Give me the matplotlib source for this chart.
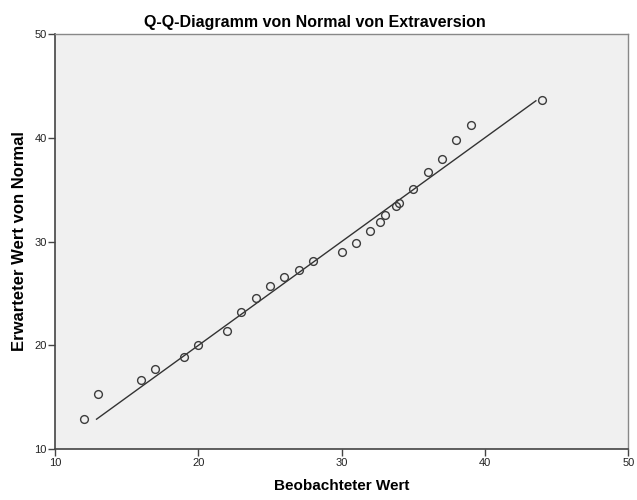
import numpy as np
import matplotlib.pyplot as plt

# beobachtete Werte und erwartete Normalwerte
beobachtet = [12, 13, 16, 17, 19, 20, 22, 23, 24, 25, 26, 27, 28,
              30, 31, 32, 32.7, 33, 33.8, 34, 35, 36, 37, 38, 39, 44]
erwartet = [12.9, 15.3, 16.7, 17.7, 18.85, 20.0, 21.4, 23.2, 24.6, 25.7, 26.55, 27.3, 28.1,
            29.0, 29.9, 31.0, 31.9, 32.6, 33.4, 33.75, 35.05, 36.7, 37.95, 39.75, 41.2, 43.6]
linie = [12.9, 43.55]
ticks = [10, 20, 30, 40, 50]

plt.rcParams['font.family'] = ['Liberation Sans', 'DejaVu Sans']

fig = plt.figure(figsize=(6.37, 5.0), dpi=100)
ax = fig.add_axes([0.0863, 0.1014, 0.9001, 0.831])
ax.set_facecolor("#f0f0f0")

ax.plot(linie, linie, color="#333333", lw=1.0, zorder=2)
ax.plot(beobachtet, erwartet, "o", ms=5.6, mfc="none", mec="#3c3c3c", mew=1.0, zorder=3)

ax.set_xlim(10, 50)
ax.set_ylim(10, 50)
ax.set_xticks(ticks)
ax.set_yticks(ticks)
ax.tick_params(direction="out", length=5, width=1, color="#444444",
               labelsize=8, labelcolor="#222222", pad=1)
for s in ["left", "bottom"]:
    ax.spines[s].set_color("#444444")
    ax.spines[s].set_linewidth(1.2)
for s in ["top", "right"]:
    ax.spines[s].set_color("#888888")
    ax.spines[s].set_linewidth(1.0)

# Titel über der ganzen Grafik zentriert
fig.text(0.495, 0.9466, "Q-Q-Diagramm von Normal von Extraversion", fontsize=11.5,
         fontweight="bold", ha="center", va="baseline")
ax.set_xlabel("Beobachteter Wert", fontsize=11, fontweight="bold", labelpad=8)
ax.set_ylabel("Erwarteter Wert von Normal", fontsize=12, fontweight="bold", labelpad=5)

plt.savefig("out.png", dpi=100)
